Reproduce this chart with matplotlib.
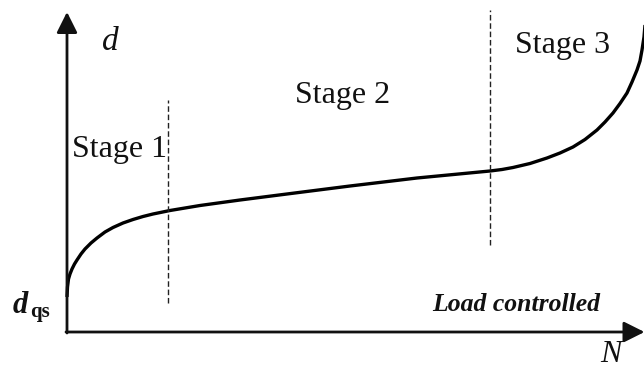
import matplotlib
matplotlib.use("Agg")
import matplotlib.pyplot as plt

# Curve values (N, d) (arbitrary units, origin at axes corner)
N_vals = [0, 0.5, 1.5, 3, 5, 7.5, 10, 14, 18, 24, 30, 38, 46, 56, 66, 76, 86,
          103, 133, 173, 216, 283, 350, 423, 435, 446, 463, 480, 493, 506, 518,
          530, 538, 546, 553, 560, 565, 570, 573, 575, 577, 578]
d_vals = [35, 45, 53, 58, 63, 68, 72, 78, 83, 89, 94, 100, 104.5, 109, 112.5,
          115.5, 118, 121.5, 126.5, 132, 137.5, 146, 154, 161, 162.5, 164.5,
          168.5, 174, 179, 185, 192.5, 202, 210, 219, 228.5, 239, 250, 262,
          271, 282, 295, 307]

# Stage boundaries (N) and dashed line extents (d)
boundaries = [101, 423]
boundary_lo = [29, 87]
boundary_hi = [232, 322]

stage_labels = ["Stage 1", "Stage 2", "Stage 3"]
stage_pos = [(5, 175), (228, 229), (448, 279)]

serif = ["Liberation Serif", "DejaVu Serif"]

fig = plt.figure(figsize=(6.44, 3.70), dpi=100)
ax = fig.add_axes([0, 0, 1, 1])
ax.set_xlim(-67, 577)
ax.set_ylim(-38, 332)
ax.axis("off")

# axes arrows
arrow_kw = dict(arrowstyle="-|>,head_length=0.9,head_width=0.45", lw=2.0,
                color="#111111", mutation_scale=14, shrinkA=0, shrinkB=0)
ax.annotate("", xy=(577.5, 0), xytext=(-1, 0), arrowprops=arrow_kw,
            annotation_clip=False)
ax.annotate("", xy=(0, 320), xytext=(0, -1), arrowprops=arrow_kw,
            annotation_clip=False)

# curve
ax.plot(N_vals, d_vals, color="black", lw=2.4, solid_capstyle="butt",
        solid_joinstyle="round", clip_on=False)

# stage boundaries
for x, lo, hi in zip(boundaries, boundary_lo, boundary_hi):
    ax.plot([x, x], [lo, hi], color="#222222", lw=1.0, linestyle=(0, (4, 2)))

# stage labels
for lab, (x, y) in zip(stage_labels, stage_pos):
    ax.text(x, y, lab, family=serif, fontsize=23, ha="left", va="baseline",
            color="#111111")

# axis labels
ax.text(35, 282, "d", family=serif, style="italic", fontsize=24,
        ha="left", va="baseline", color="#111111")
ax.text(533, -30, "N", family=serif, style="italic", fontsize=23,
        ha="left", va="baseline", color="#111111")
ax.text(-54, 19, "d", family=serif, style="italic", weight="bold", fontsize=22,
        ha="left", va="baseline", color="#111111")
ax.text(-37, 15, "qs", family=serif, weight="bold", fontsize=15,
        ha="left", va="baseline", color="#111111")
ax.text(365, 21, "Load controlled", family=serif, style="italic", weight="bold",
        fontsize=18.5, ha="left", va="baseline", color="#111111")

fig.savefig("out.png", dpi=100)
